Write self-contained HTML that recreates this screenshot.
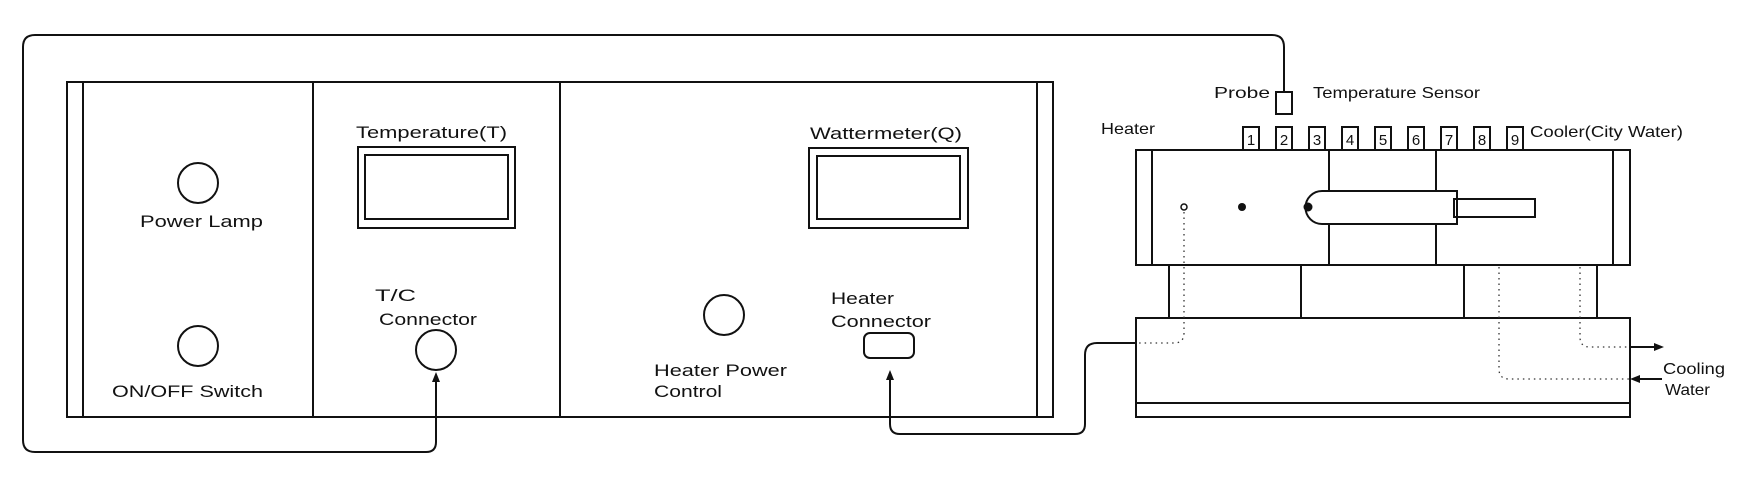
<!DOCTYPE html>
<html><head><meta charset="utf-8"><style>
html,body{margin:0;padding:0;background:#fff;}
svg{display:block;}
text{font-family:"Liberation Sans",sans-serif;fill:#111;}
</style></head><body>
<svg width="1749" height="486" viewBox="0 0 1749 486" xmlns="http://www.w3.org/2000/svg">
<g fill="none" stroke="#111" stroke-width="2">
<!-- outer loop -->
<path d="M436,380 L436,442 Q436,452 426,452 L35,452 Q23,452 23,440 L23,47 Q23,35 35,35 L1272,35 Q1284,35 1284,47 L1284,92"/>
<!-- panel -->
<rect x="67" y="82" width="986" height="335"/>
<line x1="83" y1="82" x2="83" y2="417"/>
<line x1="1037" y1="82" x2="1037" y2="417"/>
<line x1="313" y1="82" x2="313" y2="417"/>
<line x1="560" y1="82" x2="560" y2="417"/>
<circle cx="198" cy="183" r="20"/>
<circle cx="198" cy="346" r="20"/>
<rect x="358" y="147" width="157" height="81"/>
<rect x="365" y="155" width="143" height="64"/>
<circle cx="436" cy="350" r="20"/>
<rect x="809" y="148" width="159" height="80"/>
<rect x="817" y="156" width="143" height="63"/>
<circle cx="724" cy="315" r="20"/>
<rect x="864" y="333" width="50" height="25" rx="6"/>
<!-- heater cable -->
<path d="M890,378 L890,424 Q890,434 900,434 L1075,434 Q1085,434 1085,424 L1085,355 Q1085,343 1097,343 L1136,343"/>
<!-- probe -->
<rect x="1276" y="92" width="16" height="22"/>
<!-- number boxes -->
<g>
<rect x="1243" y="127" width="16" height="23"/>
<rect x="1276" y="127" width="16" height="23"/>
<rect x="1309" y="127" width="16" height="23"/>
<rect x="1342" y="127" width="16" height="23"/>
<rect x="1375" y="127" width="16" height="23"/>
<rect x="1408" y="127" width="16" height="23"/>
<rect x="1441" y="127" width="16" height="23"/>
<rect x="1474" y="127" width="16" height="23"/>
<rect x="1507" y="127" width="16" height="23"/>
</g>
<!-- main block -->
<rect x="1136" y="150" width="494" height="115" fill="#fff"/>
<line x1="1152" y1="150" x2="1152" y2="265"/>
<line x1="1613" y1="150" x2="1613" y2="265"/>
<line x1="1329" y1="150" x2="1329" y2="191"/>
<line x1="1329" y1="224" x2="1329" y2="265"/>
<line x1="1436" y1="150" x2="1436" y2="191"/>
<line x1="1436" y1="224" x2="1436" y2="265"/>
<path d="M1457,191 L1322,191 A16.5,16.5 0 0 0 1322,224 L1457,224 Z"/>
<rect x="1454" y="199" width="81" height="18"/>
<circle cx="1184" cy="207" r="3" stroke-width="1.5"/>
<!-- supports -->
<line x1="1169" y1="265" x2="1169" y2="318"/>
<line x1="1301" y1="265" x2="1301" y2="318"/>
<line x1="1464" y1="265" x2="1464" y2="318"/>
<line x1="1597" y1="265" x2="1597" y2="318"/>
<!-- base -->
<rect x="1136" y="318" width="494" height="99"/>
<line x1="1136" y1="403" x2="1630" y2="403"/>
<!-- cooling arrows -->
<line x1="1630" y1="347" x2="1656" y2="347"/>
<line x1="1636" y1="379" x2="1662" y2="379"/>
</g>
<g fill="#111">
<path d="M890,370 L886,380 L894,380 Z"/>
<path d="M436,372 L432,382 L440,382 Z"/>
<circle cx="1242" cy="207" r="4"/>
<circle cx="1308" cy="207" r="4.5"/>
<path d="M1664,347 L1654,343 L1654,351 Z"/>
<path d="M1630,379 L1640,375 L1640,383 Z"/>
</g>
<g fill="none" stroke="#333" stroke-width="1.3" stroke-dasharray="1.5,4">
<path d="M1184,212 L1184,333 Q1184,343 1174,343 L1136,343"/>
<path d="M1580,267 L1580,337 Q1580,347 1590,347 L1630,347"/>
<path d="M1499,267 L1499,369 Q1499,379 1509,379 L1630,379"/>
</g>
<g font-size="17">
<text x="140" y="227" textLength="123" lengthAdjust="spacingAndGlyphs">Power Lamp</text>
<text x="112" y="397" textLength="151" lengthAdjust="spacingAndGlyphs">ON/OFF Switch</text>
<text x="356" y="138" textLength="151" lengthAdjust="spacingAndGlyphs">Temperature(T)</text>
<text x="375" y="301" textLength="41" lengthAdjust="spacingAndGlyphs">T/C</text>
<text x="379" y="325" textLength="98" lengthAdjust="spacingAndGlyphs">Connector</text>
<text x="810" y="139" textLength="152" lengthAdjust="spacingAndGlyphs">Wattermeter(Q)</text>
<text x="654" y="376" textLength="133" lengthAdjust="spacingAndGlyphs">Heater Power</text>
<text x="654" y="397" textLength="68" lengthAdjust="spacingAndGlyphs">Control</text>
<text x="831" y="304" textLength="63" lengthAdjust="spacingAndGlyphs">Heater</text>
<text x="831" y="327" textLength="100" lengthAdjust="spacingAndGlyphs">Connector</text>
</g>
<g font-size="16">
<text x="1214" y="98" textLength="56" lengthAdjust="spacingAndGlyphs">Probe</text>
<text x="1313" y="98" textLength="167" lengthAdjust="spacingAndGlyphs">Temperature Sensor</text>
<text x="1101" y="134" textLength="54" lengthAdjust="spacingAndGlyphs">Heater</text>
<text x="1530" y="137" textLength="153" lengthAdjust="spacingAndGlyphs">Cooler(City Water)</text>
<text x="1663" y="374" textLength="62" lengthAdjust="spacingAndGlyphs">Cooling</text>
<text x="1665" y="395" textLength="45" lengthAdjust="spacingAndGlyphs">Water</text>
</g>
<g font-size="15" text-anchor="middle">
<text x="1251" y="145">1</text><text x="1284" y="145">2</text><text x="1317" y="145">3</text>
<text x="1350" y="145">4</text><text x="1383" y="145">5</text><text x="1416" y="145">6</text>
<text x="1449" y="145">7</text><text x="1482" y="145">8</text><text x="1515" y="145">9</text>
</g>
</svg>
</body></html>
